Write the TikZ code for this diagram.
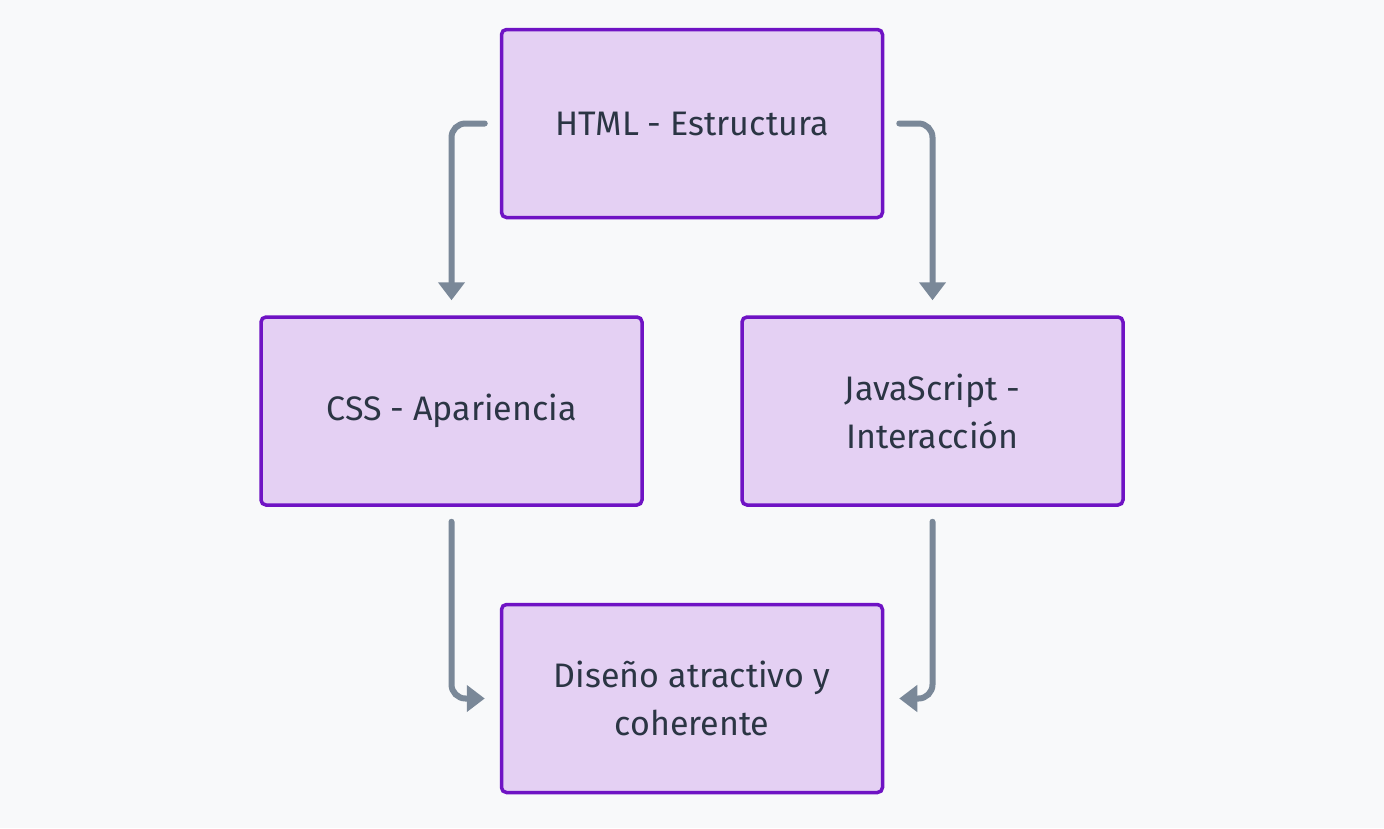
\documentclass[tikz,border=0pt]{standalone}
\usepackage{fontspec}
\setmainfont{Fira Sans}
\usetikzlibrary{arrows.meta,positioning}
\definecolor{pagebg}{HTML}{F8F9FA}
\definecolor{boxfill}{HTML}{E4D0F3}
\definecolor{boxline}{HTML}{6F13C4}
\definecolor{boxtext}{HTML}{2B3544}
\definecolor{linkgray}{HTML}{7A8898}

\begin{document}
\begin{tikzpicture}[x=1pt, y=-1pt, node distance=96pt,
    font=\fontsize{34}{48}\selectfont,
    box/.style={draw=boxline, fill=boxfill, line width=3.5pt, rounded corners=5pt,
        minimum width=381pt, minimum height=188pt, align=center, text=boxtext},
    link/.style={draw=linkgray, line width=6pt, line cap=round, rounded corners=14pt,
        -{Triangle[length=18pt,width=26pt]}}]
            \fill[pagebg] (0,0) rectangle (1384,828);
            \useasboundingbox (0,0) rectangle (1384,828);
            \node[box] (html) at (692,123.5) {HTML - Estructura};
            \node[box] (css)  [below=of html, xshift=-240.5pt] {CSS - Apariencia};
            \node[box] (js)   [below=of html, xshift=240.5pt]  {JavaScript -\\Interacción};
            \node[box] (res)  [below=of css, xshift=240.5pt]   {Diseño atractivo y\\coherente};
            \draw[link] ([xshift=-15pt]html.west) -| ([yshift=15pt]css.north);
            \draw[link] ([xshift=15pt]html.east)  -| ([yshift=15pt]js.north);
            \draw[link] ([yshift=-15pt]css.south) |- ([xshift=-15pt]res.west);
            \draw[link] ([yshift=-15pt]js.south)  |- ([xshift=15pt]res.east);
\end{tikzpicture}
\end{document}
